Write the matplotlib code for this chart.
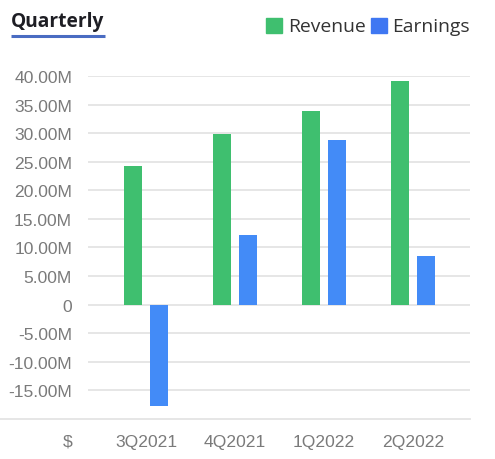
import matplotlib
matplotlib.use("Agg")
import matplotlib.pyplot as plt
from matplotlib.lines import Line2D
from matplotlib.patches import Rectangle
import numpy as np

quarters = ["3Q2021", "4Q2021", "1Q2022", "2Q2022"]
revenue = [24.3, 29.9, 33.9, 39.2]      # millions
earnings = [-17.8, 12.2, 28.8, 8.5]     # millions
yticks = [-15, -10, -5, 0, 5, 10, 15, 20, 25, 30, 35, 40]
ytick_labels = ["-15.00M", "-10.00M", "-5.00M", "0", "5.00M", "10.00M", "15.00M",
                "20.00M", "25.00M", "30.00M", "35.00M", "40.00M"]

GREEN = "#3fbf6f"
BLUE = "#438bf7"
GRID = "#e4e4e4"
LABEL = "#7a7a7a"

W, H = 495, 460
fig = plt.figure(figsize=(W / 100, H / 100), dpi=100)
ax = fig.add_axes([88 / W, 1 - 420 / H, (470 - 88) / W, (420 - 77) / H])

x = np.arange(len(quarters))
bw = 0.202
off = 0.146
ax.bar(x - off, revenue, bw, color=GREEN, zorder=3)
ax.bar(x + off, earnings, bw, color=BLUE, zorder=3)

ax.set_xlim(-0.652, 3.64)
ax.set_ylim(-20, 40)
for v in yticks:
    ax.axhline(v, color=GRID, lw=1.3, zorder=1)

ax.set_yticks(yticks)
ax.set_yticklabels(ytick_labels)
ax.set_xticks(x)
ax.set_xticklabels(quarters)
for lab in ax.get_xticklabels() + ax.get_yticklabels():
    lab.set_family("Liberation Sans")
    lab.set_fontsize(12.6)
    lab.set_color(LABEL)
ax.tick_params(axis="both", length=0)
ax.tick_params(axis="y", pad=11.5)
ax.tick_params(axis="x", pad=11)
for s in ax.spines.values():
    s.set_visible(False)

# bottom baseline spanning to the left edge
fig.add_artist(Line2D([0, 470 / W], [1 - 420 / H, 1 - 420 / H], transform=fig.transFigure,
                      color=GRID, lw=1.3))
fig.text(68 / W, 1 - 442 / H, "$", ha="center", va="center", fontsize=12.6,
         family="Liberation Sans", color=LABEL)

# title with underline
fig.text(11 / W, 1 - 22 / H, "Quarterly", ha="left", va="center", fontsize=13.8,
         fontweight="bold", family="Open Sans", color="#1e1e24")
fig.add_artist(Line2D([11 / W, 105 / W], [1 - 36.5 / H, 1 - 36.5 / H], transform=fig.transFigure,
                      color="#4a6cc2", lw=2.2, solid_capstyle="butt"))

# legend
fig.add_artist(Rectangle((266 / W, 1 - 34 / H), 15.5 / W, 15 / H, transform=fig.transFigure,
                         color=GREEN))
fig.text(288 / W, 1 - 27 / H, "Revenue", ha="left", va="center", fontsize=13.9,
         family="Open Sans", color="#333333")
fig.add_artist(Rectangle((371 / W, 1 - 34 / H), 15.5 / W, 15 / H, transform=fig.transFigure,
                         color="#3f77f2"))
fig.text(392 / W, 1 - 27 / H, "Earnings", ha="left", va="center", fontsize=13.9,
         family="Open Sans", color="#333333")

fig.savefig("out.png", dpi=100, facecolor="white")
